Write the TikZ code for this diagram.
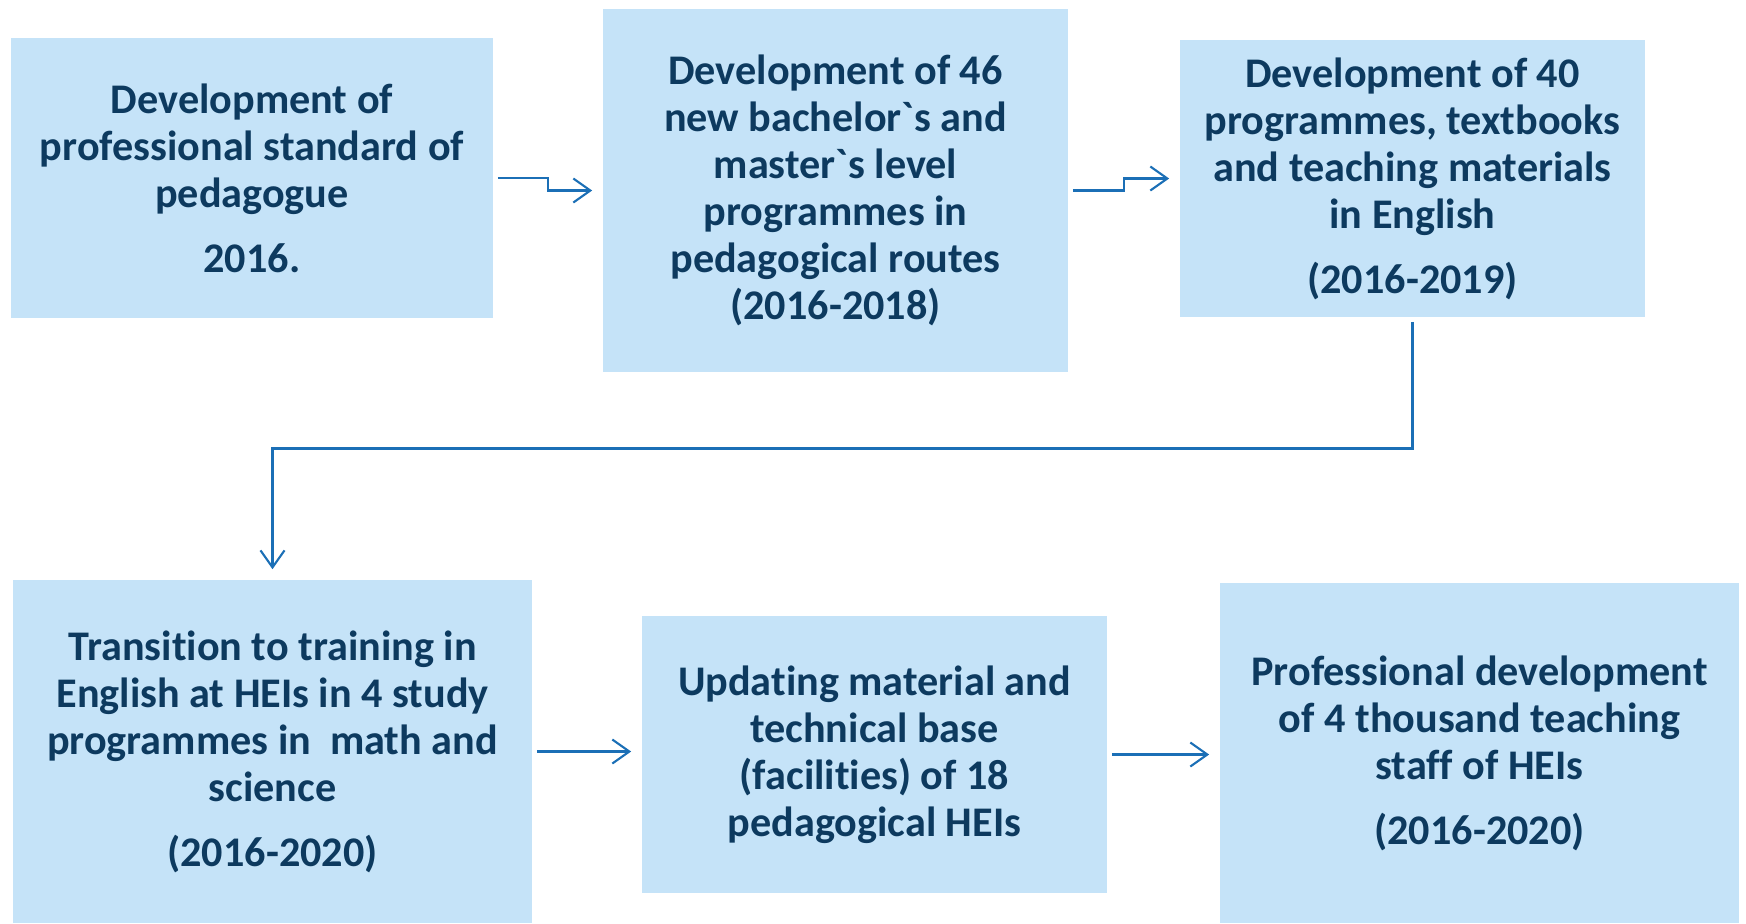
\documentclass[tikz,border=0pt]{standalone}
\usepackage{fontspec}
\setmainfont[Ligatures={TeX,NoCommon}]{Carlito}
\usepackage{tikz}
\usetikzlibrary{arrows.meta,calc}
\definecolor{boxfill}{HTML}{C5E3F8}
\definecolor{boxtext}{HTML}{0D3A5F}
\definecolor{flowline}{HTML}{1B6FB6}

\begin{document}
\begin{tikzpicture}[x=0.01cm,y=-0.01cm,>={Straight Barb[length=1.7mm,width=2.4mm]}]
    \tikzstyle{block} = [fill=boxfill, shape=rectangle, text=boxtext, align=center, inner sep=0pt, font=\bfseries\fontsize{12}{13.4}\selectfont]
    \tikzstyle{flow} = [->, draw=flowline, line width=0.6pt, shorten <=0.4mm, shorten >=1mm]
    \useasboundingbox (0,0) rectangle (1746,923);
    %Creating Blocks
    \node [block, minimum width=4.82cm, minimum height=2.80cm] at (252,178) (dev) {Development of\\professional standard of\\pedagogue\\[5pt]2016.};
    \node [block, minimum width=4.65cm, minimum height=3.63cm] at (835.5,190.5) (prog) {Development of 46\\new bachelor\textasciigrave s and\\master\textasciigrave s level\\programmes in\\pedagogical routes\\(2016-2018)};
    \node [block, minimum width=4.65cm, minimum height=2.77cm] at (1412.5,178.5) (text) {Development of 40\\programmes, textbooks\\and teaching materials\\in English\\[5pt](2016-2019)};
    \node [block, minimum width=5.19cm, minimum height=3.43cm] at (272.5,751.5) (eng) {Transition to training in\\English at HEIs in 4 study\\programmes in~ math and\\science\\[5pt](2016-2020)};
    \node [block, minimum width=4.65cm, minimum height=2.77cm] at (874.5,754.5) (base) {Updating material and\\technical base\\(facilities) of 18\\pedagogical HEIs};
    \node [block, minimum width=5.19cm, minimum height=3.40cm] at (1479.5,753) (staff) {Professional development\\of 4 thousand teaching\\staff of HEIs\\[5pt](2016-2020)};
    %Conecting Blocks
    \draw[flow] (dev.east) -| ($(dev.east)!0.5!(prog.west)$) |- (prog.west);
    \draw[flow] (prog.east) -| ($(prog.east)!0.5!(text.west)$) |- (text.west);
    \draw[flow] (text.south) |- ($(text.south)!0.5!(eng.north)$) -| (eng.north);
    \draw[flow] (eng.east) -- (eng.east -| base.west);
    \draw[flow] (base.east) -- (staff.west |- base.east);
\end{tikzpicture}
\end{document}
